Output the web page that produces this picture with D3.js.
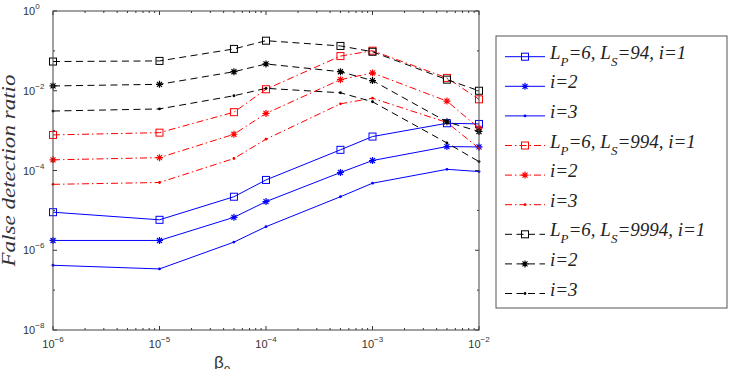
<!DOCTYPE html>
<html>
<head>
<meta charset="utf-8">
<script src="https://cdn.jsdelivr.net/npm/d3@7"></script>
<style>
    body { margin: 0; background: #fff; }
    svg { display: block; }
</style>
</head>
<body>
<svg></svg>
<script>
// beta values on the x axis (same for every curve)
let betaValues = [1e-6, 1e-5, 5e-5, 1e-4, 5e-4, 1e-3, 5e-3, 1e-2]

// LP=6, LS=94
let ls94_i1 = [9.0e-6, 5.8e-6, 2.2e-5, 5.8e-5, 3.3e-4, 7.1e-4, 1.53e-3, 1.47e-3]
let ls94_i2 = [1.76e-6, 1.76e-6, 6.7e-6, 1.66e-5, 8.9e-5, 1.78e-4, 3.98e-4, 3.9e-4]
let ls94_i3 = [4.2e-7, 3.4e-7, 1.6e-6, 3.9e-6, 2.2e-5, 4.8e-5, 1.07e-4, 9.4e-5]

// LP=6, LS=994
let ls994_i1 = [7.8e-4, 8.9e-4, 2.9e-3, 1.09e-2, 7.4e-2, 0.101, 2.1e-2, 6.1e-3]
let ls994_i2 = [1.85e-4, 2.1e-4, 8.1e-4, 2.7e-3, 1.9e-2, 2.8e-2, 5.5e-3, 1.15e-3]
let ls994_i3 = [4.5e-5, 5.0e-5, 2.0e-4, 6.1e-4, 4.7e-3, 6.5e-3, 1.6e-3, 3.6e-4]

// LP=6, LS=9994
let ls9994_i1 = [5.4e-2, 5.6e-2, 0.112, 0.18, 0.133, 0.095, 1.9e-2, 1.0e-2]
let ls9994_i2 = [1.32e-2, 1.45e-2, 3.0e-2, 4.7e-2, 3.0e-2, 1.8e-2, 1.66e-3, 9.5e-4]
let ls9994_i3 = [3.1e-3, 3.5e-3, 7.5e-3, 1.15e-2, 8.9e-3, 5.3e-3, 4.9e-4, 1.67e-4]

// tick labels (exponents of ten)
let xTickExponents = [-6, -5, -4, -3, -2]
let yTickExponents = [0, -2, -4, -6, -8]

let width = 738
let height = 369

// plot box
let plotLeft = 53
let plotRight = 479
let plotTop = 11
let plotBottom = 330

let svg = d3.select('svg')
svg.attr('width', width).attr('height', height)

let xScale = d3.scaleLog().domain([1e-6, 1e-2]).range([plotLeft, plotRight])
let yScale = d3.scaleLog().domain([1e-8, 1]).range([plotBottom, plotTop])

let series = [
    { values: ls94_i1, color: '#0000ff', dash: null, marker: 'square', label: ['L', 'P', '=6, L', 'S', '=94, i=1'] },
    { values: ls94_i2, color: '#0000ff', dash: null, marker: 'star', label: ['i=2'] },
    { values: ls94_i3, color: '#0000ff', dash: null, marker: 'dot', label: ['i=3'] },
    { values: ls994_i1, color: '#ff0000', dash: '7,3,1.5,3', marker: 'square', label: ['L', 'P', '=6, L', 'S', '=994, i=1'] },
    { values: ls994_i2, color: '#ff0000', dash: '7,3,1.5,3', marker: 'star', label: ['i=2'] },
    { values: ls994_i3, color: '#ff0000', dash: '7,3,1.5,3', marker: 'dot', label: ['i=3'] },
    { values: ls9994_i1, color: '#000000', dash: '7,4.5', marker: 'square', label: ['L', 'P', '=6, L', 'S', '=9994, i=1'] },
    { values: ls9994_i2, color: '#000000', dash: '7,4.5', marker: 'star', label: ['i=2'] },
    { values: ls9994_i3, color: '#000000', dash: '7,4.5', marker: 'dot', label: ['i=3'] }
]

// draw one marker of a given kind at (x, y)
let drawMarker = (g, kind, x, y, color) => {
    if (kind === 'square') {
        g.append('rect')
         .attr('x', x - 3.5).attr('y', y - 3.5)
         .attr('width', 7).attr('height', 7)
         .attr('fill', 'none').attr('stroke', color).attr('stroke-width', 1)
    } else if (kind === 'star') {
        let s = 3.5
        let d = 2.5
        g.append('path')
         .attr('d', `M${x - s},${y}H${x + s}M${x},${y - s}V${y + s}` +
                    `M${x - d},${y - d}L${x + d},${y + d}M${x - d},${y + d}L${x + d},${y - d}`)
         .attr('stroke', color).attr('stroke-width', 1.2).attr('fill', 'none')
    } else {
        g.append('circle')
         .attr('cx', x).attr('cy', y).attr('r', 1.4)
         .attr('fill', color)
    }
}

let drawAxes = () => {
    let axisG = svg.append('g')

    // minor and major x ticks, inward, on bottom and top
    let xTicks = []
    xTickExponents.forEach((e) => {
        xTicks.push({ v: Math.pow(10, e), major: true })
        if (e < -2) {
            for (let m = 2; m <= 9; m++) xTicks.push({ v: m * Math.pow(10, e), major: false })
        }
    })
    xTicks.forEach((t) => {
        let x = xScale(t.v)
        let len = t.major ? 4 : 2
        axisG.append('line').attr('x1', x).attr('x2', x).attr('y1', plotBottom).attr('y2', plotBottom - len)
        axisG.append('line').attr('x1', x).attr('x2', x).attr('y1', plotTop).attr('y2', plotTop + len)
    })

    // y ticks at every decade, longer where labelled
    for (let e = -8; e <= 0; e++) {
        let y = yScale(Math.pow(10, e))
        let len = (e % 2 === 0) ? 4 : 2
        axisG.append('line').attr('x1', plotLeft).attr('x2', plotLeft + len).attr('y1', y).attr('y2', y)
        axisG.append('line').attr('x1', plotRight).attr('x2', plotRight - len).attr('y1', y).attr('y2', y)
    }
    axisG.selectAll('line').attr('stroke', '#333').attr('stroke-width', 1)

    // box
    svg.append('rect')
       .attr('x', plotLeft).attr('y', plotTop)
       .attr('width', plotRight - plotLeft).attr('height', plotBottom - plotTop)
       .attr('fill', 'none').attr('stroke', '#444').attr('stroke-width', 1)

    // x tick labels with superscript
    xTickExponents.forEach((e) => {
        let t = svg.append('text')
                   .attr('x', xScale(Math.pow(10, e)))
                   .attr('y', 348)
                   .attr('text-anchor', 'middle')
                   .attr('font-family', 'Liberation Sans, Arial, sans-serif')
                   .attr('font-size', 11)
                   .attr('fill', '#333')
        t.append('tspan').text('10')
        t.append('tspan').attr('dy', -6).attr('font-size', 8).text(e === 0 ? '0' : '\u2212' + (-e))
    })

    // y tick labels
    yTickExponents.forEach((e) => {
        let t = svg.append('text')
                   .attr('x', 23)
                   .attr('y', yScale(Math.pow(10, e)) + 4)
                   .attr('font-family', 'Liberation Sans, Arial, sans-serif')
                   .attr('font-size', 11)
                   .attr('fill', '#333')
        t.append('tspan').text('10')
        t.append('tspan').attr('dy', -6).attr('font-size', 8).text(e === 0 ? '0' : '\u2212' + (-e))
    })

    // y axis title
    svg.append('text')
       .attr('transform', `translate(15, ${(plotTop + plotBottom) / 2}) rotate(-90)`)
       .attr('text-anchor', 'middle')
       .attr('font-family', 'Liberation Serif, Times New Roman, serif')
       .attr('font-style', 'italic')
       .attr('font-size', 18)
       .attr('textLength', 192)
       .attr('lengthAdjust', 'spacingAndGlyphs')
       .attr('fill', '#333')
       .text('False detection ratio')

    // x axis title, cut by the bottom edge as in the original
    let xt = svg.append('text')
                .attr('x', 214).attr('y', 368)
                .attr('font-family', 'Liberation Sans, Arial, sans-serif')
                .attr('font-size', 17)
                .attr('fill', '#333')
    xt.append('tspan').text('\u03b2')
    xt.append('tspan').attr('dy', 5).attr('font-size', 12).text('e')
}

let drawSeries = () => {
    let line = d3.line()
                 .x((d) => xScale(d[0]))
                 .y((d) => yScale(d[1]))

    series.forEach((s) => {
        let pts = betaValues.map((b, i) => [b, s.values[i]])
        svg.append('path')
           .datum(pts)
           .attr('d', line)
           .attr('fill', 'none')
           .attr('stroke', s.color)
           .attr('stroke-width', 1)
           .attr('stroke-dasharray', s.dash)
        let g = svg.append('g')
        pts.forEach((p) => drawMarker(g, s.marker, xScale(p[0]), yScale(p[1]), s.color))
    })
}

let drawLegend = () => {
    let lx = 496
    let ly = 36
    svg.append('rect')
       .attr('x', lx).attr('y', ly)
       .attr('width', 231).attr('height', 272)
       .attr('fill', '#fff').attr('stroke', '#555').attr('stroke-width', 1)

    series.forEach((s, i) => {
        let y = 56.7 + i * 29.6
        svg.append('line')
           .attr('x1', 505).attr('x2', 545).attr('y1', y).attr('y2', y)
           .attr('stroke', s.color).attr('stroke-width', 1)
           .attr('stroke-dasharray', s.dash)
        drawMarker(svg, s.marker, 525, y, s.color)

        let t = svg.append('text')
                   .attr('x', 550).attr('y', y + 2)
                   .attr('font-family', 'Liberation Serif, Times New Roman, serif')
                   .attr('font-style', 'italic')
                   .attr('font-size', 19)
                   .attr('fill', '#222')
        if (s.label.length === 1) {
            t.text(s.label[0])
        } else {
            t.append('tspan').text(s.label[0])
            t.append('tspan').attr('dy', 7).attr('font-size', 13).text(s.label[1])
            t.append('tspan').attr('dy', -7).text(s.label[2])
            t.append('tspan').attr('dy', 7).attr('font-size', 13).text(s.label[3])
            t.append('tspan').attr('dy', -7).text(s.label[4])
        }
    })
}

drawSeries()
drawAxes()
drawLegend()
</script>
</body>
</html>
